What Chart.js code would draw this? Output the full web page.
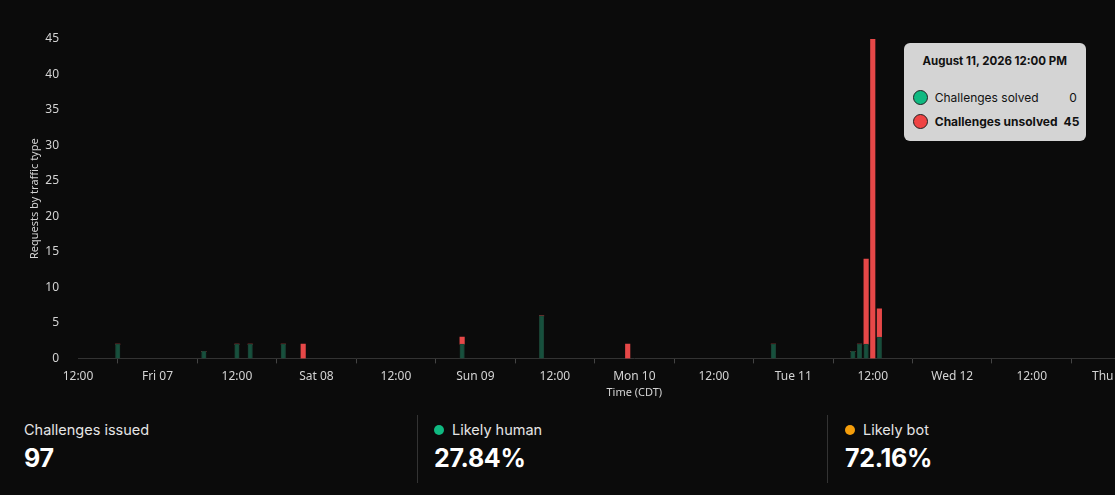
<!DOCTYPE html>
<html>
<head>
<meta charset="utf-8">
<script src="https://cdn.jsdelivr.net/npm/chart.js@4"></script>
<style>
  html, body { margin: 0; padding: 0; background: #0b0b0b; overflow: hidden; }
  body { width: 1115px; height: 495px; position: relative; font-family: Inter, "Noto Sans", sans-serif; }
  #wrap { position: absolute; left: 0; top: 0; width: 1212px; height: 407px; }
  #tip {
    position: absolute; background: #d4d4d4; border-radius: 6px; color: #111; box-sizing: border-box;
    font-family: Inter, sans-serif; font-size: 12px; padding: 11px 9px 8px 9px; width: 182px;
    pointer-events: none;
  }
  #tip .t { font-weight: 700; text-align: center; margin-bottom: 17px; font-size: 11.5px; }
  #tip .row { display: flex; align-items: center; height: 24px; white-space: nowrap; }
  #tip .dot { width: 13px; height: 13px; border-radius: 50%; border: 1px solid #222; margin-right: 7px; flex: none; }
  #tip .lab { flex: 1; }
  #tip .val { margin-left: 6px; }
  #tip .b { font-weight: 700; }
  .stats { position: absolute; top: 414px; left: 0; width: 1115px; height: 68px; }
  .stat { position: absolute; top: 0; height: 68px; }
  .stat .h { font-size: 14.5px; color: #e5e5e5; margin-top: 7px; display: flex; align-items: center; }
  .stat .v { font-size: 25px; font-weight: 700; color: #fff; margin-top: 5px; letter-spacing: -0.3px; }
  .stat .d { width: 10px; height: 10px; border-radius: 50%; margin-right: 8px; }
  .sep { position: absolute; top: 415px; width: 1px; height: 68px; background: #333; }
</style>
</head>
<body>
<div id="wrap"><canvas id="grafico"></canvas></div>
<div id="tip"></div>
<div class="sep" style="left:417px"></div>
<div class="sep" style="left:827px"></div>
<div class="stats">
  <div class="stat" style="left:24px"><div class="h">Challenges issued</div><div class="v">97</div></div>
  <div class="stat" style="left:434px"><div class="h"><span class="d" style="background:#10b981"></span>Likely human</div><div class="v">27.84%</div></div>
  <div class="stat" style="left:845px"><div class="h"><span class="d" style="background:#f59e0b"></span>Likely bot</div><div class="v">72.16%</div></div>
</div>
<script>
// hora de inicio del eje: jueves 6 de agosto 12:00
const inicio = "2026-08-06T12:00";
const horas = ["2026-08-06T18:00", "2026-08-07T07:00", "2026-08-07T12:00", "2026-08-07T14:00",
  "2026-08-07T19:00", "2026-08-07T22:00", "2026-08-08T22:00", "2026-08-09T10:00",
  "2026-08-09T23:00", "2026-08-10T21:00", "2026-08-11T09:00", "2026-08-11T10:00",
  "2026-08-11T11:00", "2026-08-11T12:00", "2026-08-11T13:00"];
const resueltos = [2, 1, 2, 2, 2, 0, 2, 6, 0, 2, 1, 2, 2, 0, 3];
const noResueltos = [0, 0, 0, 0, 0, 2, 1, 0, 2, 0, 0, 0, 12, 45, 4];
const etiquetasX = ["12:00", "Fri 07", "12:00", "Sat 08", "12:00", "Sun 09", "12:00", "Mon 10",
  "12:00", "Tue 11", "12:00", "Wed 12", "12:00", "Thu 13", "12:00"];
const meses = ["January", "February", "March", "April", "May", "June", "July", "August",
  "September", "October", "November", "December"];

const verde = "#10b981";
const rojo = "#ef4444";

function aHoras(s) {
  return (Date.parse(s + ":00Z") - Date.parse(inicio + ":00Z")) / 3600000;
}

function formatoFecha(s) {
  const d = new Date(s + ":00Z");
  let h = d.getUTCHours();
  const ampm = h >= 12 ? "PM" : "AM";
  h = h % 12; if (h === 0) h = 12;
  const m = String(d.getUTCMinutes()).padStart(2, "0");
  return `${meses[d.getUTCMonth()]} ${d.getUTCDate()}, ${d.getUTCFullYear()} ${h}:${m} ${ampm}`;
}

const datosResueltos = horas.map((h, i) => ({ x: aHoras(h), y: resueltos[i] }));
const datosNoResueltos = horas.map((h, i) => ({ x: aHoras(h), y: noResueltos[i] }));

const indiceActivo = 13;
const datasetActivo = 1;

function tooltipExterno(context) {
  const tip = document.getElementById("tip");
  const t = context.tooltip;
  if (t.opacity === 0) { tip.style.display = "none"; return; }
  const pts = t.dataPoints;
  let html = `<div class="t">${formatoFecha(horas[pts[0].dataIndex])}</div>`;
  pts.forEach(p => {
    const b = p.datasetIndex === datasetActivo ? " b" : "";
    html += `<div class="row${b}"><span class="dot" style="background:${p.dataset.tipColor}"></span>` +
      `<span class="lab">${p.dataset.label}</span><span class="val">${p.raw.y}</span></div>`;
  });
  tip.innerHTML = html;
  tip.style.display = "block";
  tip.style.left = (t.caretX + 31) + "px";
  tip.style.top = "43px";
}

const ctx = document.getElementById("grafico");
const grafico = new Chart(ctx, {
  type: "bar",
  data: {
    datasets: [
      { label: "Challenges solved", data: datosResueltos, backgroundColor: "#17503d",
        borderColor: "#1a4234", borderWidth: 1, tipColor: verde },
      { label: "Challenges unsolved", data: datosNoResueltos, backgroundColor: "#e64848",
        borderWidth: 0, tipColor: rojo }
    ]
  },
  options: {
    responsive: true,
    maintainAspectRatio: false,
    animation: false,
    barThickness: 4.5,
    layout: { padding: { top: 39, left: 24, right: 10, bottom: 4 } },
    plugins: {
      legend: { display: false },
      tooltip: { enabled: false, mode: "index", intersect: false, external: tooltipExterno }
    },
    scales: {
      x: {
        type: "linear", stacked: true, min: 0, max: 168, offset: false,
        grid: { display: true, drawOnChartArea: false, drawTicks: true, tickLength: 5, tickColor: "#444" },
        border: { display: true, color: "#333" },
        ticks: {
          stepSize: 12, autoSkip: false, maxRotation: 0, color: "#d4d4d4",
          font: { family: "Noto Sans", size: 12 }, padding: 6,
          callback: v => etiquetasX[v / 12]
        },
        title: { display: true, text: "Time (CDT)", color: "#d4d4d4",
          font: { family: "Noto Sans", size: 11 }, padding: { top: -4 } }
      },
      y: {
        stacked: true, min: 0, max: 45,
        grid: { display: false },
        border: { display: false },
        ticks: { stepSize: 5, color: "#d4d4d4", font: { family: "Noto Sans", size: 12 }, padding: 11 },
        title: { display: true, text: "Requests by traffic type", color: "#d4d4d4",
          font: { family: "Noto Sans", size: 11 }, padding: 4 },
        afterFit: s => { s.width = 54; }
      }
    }
  }
});

const el = grafico.getDatasetMeta(datasetActivo).data[indiceActivo];
grafico.tooltip.setActiveElements(
  [{ datasetIndex: 0, index: indiceActivo }, { datasetIndex: 1, index: indiceActivo }],
  { x: el.x, y: el.y }
);
grafico.update();
</script>
</body>
</html>
